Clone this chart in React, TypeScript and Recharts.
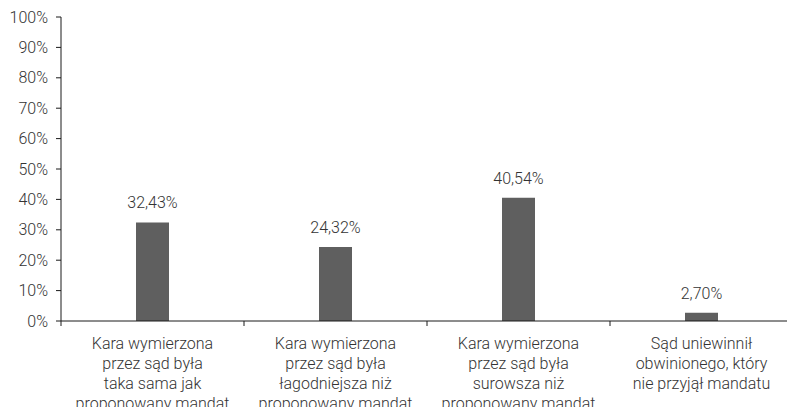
import React from 'react';
import { Bar, BarChart, LabelList, XAxis, YAxis } from 'recharts';

const categories = [
  'Kara wymierzona\nprzez sąd była\ntaka sama jak\nproponowany mandat',
  'Kara wymierzona\nprzez sąd była\nłagodniejsza niż\nproponowany mandat',
  'Kara wymierzona\nprzez sąd była\nsurowsza niż\nproponowany mandat',
  'Sąd uniewinnił\nobwinionego, który\nnie przyjął mandatu',
];
const shares = [32.43, 24.32, 40.54, 2.7];
const yTicks = [0, 10, 20, 30, 40, 50, 60, 70, 80, 90, 100];

const data = categories.map((name, i) => ({ name, value: shares[i] }));

const FONT = "Roboto, 'Liberation Sans', sans-serif";
const TEXT = '#333333';
const AXIS = '#1a1a1a';

const fmt = (v: number) => `${v.toFixed(2).replace('.', ',')}%`;

const CategoryTick = (props: any) => {
  const { x, y, payload, width } = props;
  const half = payload && payload.offset ? payload.offset : width / 8;
  const lines = String(payload.value).split('\n');
  return (
    <g>
      <line x1={x - half} x2={x - half} y1={y - 5} y2={y} stroke={AXIS} strokeWidth={1} />
      <text x={x} y={y} textAnchor='middle' fill={TEXT} fontSize={16} fontFamily={FONT} fontWeight={300}>
        {lines.map((line, i) => (
          <tspan key={i} x={x} dy={i === 0 ? 23 : 20}>
            {line}
          </tspan>
        ))}
      </text>
    </g>
  );
};

export default function App() {
  return (
    <div style={{ position: 'absolute', left: 0, top: 0, width: 787, height: 407, overflow: 'hidden', background: '#fff' }}>
      <BarChart width={800} height={407} data={data} margin={{ top: 17, right: 7, left: 0, bottom: 0 }}>
        <XAxis
          dataKey='name'
          height={86}
          interval={0}
          tickLine={false}
          tickSize={5}
          tickMargin={0}
          stroke={AXIS}
          tick={<CategoryTick />}
        />
        <YAxis
          width={61}
          domain={[0, 100]}
          ticks={yTicks}
          interval={0}
          tickSize={5}
          tickMargin={8}
          stroke={AXIS}
          tickFormatter={(v: number) => `${v}%`}
          tick={{ fill: TEXT, fontSize: 16, fontFamily: FONT, fontWeight: 300 }}
        />
        <Bar dataKey='value' fill='#5f5f5f' barSize={33} isAnimationActive={false}>
          <LabelList
            dataKey='value'
            position='top'
            offset={14}
            formatter={(v: any) => fmt(Number(v))}
            style={{ fill: TEXT, fontSize: 16, fontFamily: FONT, fontWeight: 300 }}
          />
        </Bar>
      </BarChart>
    </div>
  );
}
